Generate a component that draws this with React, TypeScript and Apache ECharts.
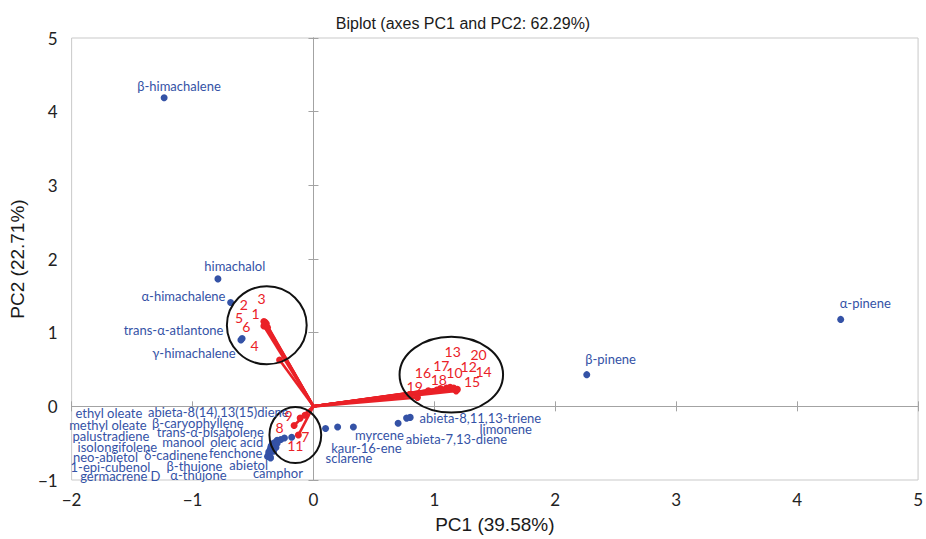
import React, { useEffect, useRef } from "react";
import * as echarts from "echarts";

// ---- Variables (blue) ----
const varNames = [
  "β-himachalene", "himachalol", "α-himachalene", "trans-α-atlantone", "γ-himachalene",
  "α-pinene", "β-pinene", "abieta-8,11,13-triene", "limonene", "abieta-7,13-diene",
  "myrcene", "kaur-16-ene", "sclarene",
  "ethyl oleate", "methyl oleate", "palustradiene", "isolongifolene", "neo-abietol",
  "1-epi-cubenol", "germacrene D", "abieta-8(14),13(15)diene", "β-caryophyllene",
  "trans-α-bisabolene", "manool", "oleic acid", "δ-cadinene", "fenchone",
  "β-thujone", "abietol", "α-thujone", "camphor",
];
const varPC1 = [
  -1.235, -0.79, -0.685, -0.59, -0.6,
  4.36, 2.26, 0.8, 0.77, 0.7,
  0.33, 0.2, 0.1,
  -0.37, -0.37, -0.36, -0.355, -0.36,
  -0.38, -0.355, -0.27, -0.3,
  -0.32, -0.34, -0.24, -0.35, -0.18,
  -0.34, -0.33, -0.31, -0.3,
];
const varPC2 = [
  4.19, 1.73, 1.41, 0.92, 0.9,
  1.18, 0.43, -0.15, -0.16, -0.23,
  -0.28, -0.28, -0.3,
  -0.62, -0.65, -0.6, -0.57, -0.68,
  -0.68, -0.7, -0.45, -0.46,
  -0.49, -0.51, -0.43, -0.54, -0.42,
  -0.57, -0.61, -0.56, -0.5,
];
// label anchors (centre of text) in PC units
const varLabelPC1 = [
  -1.112, -0.651, -1.075, -1.157, -0.988,
  4.563, 2.457, 1.38, 1.59, 1.183,
  0.545, 0.438, 0.294,
  -1.692, -1.7, -1.675, -1.622, -1.72,
  -1.679, -1.597, -0.787, -0.956,
  -0.853, -1.075, -0.635, -1.137, -0.643,
  -0.984, -0.536, -0.951, -0.294,
];
const varLabelPC2 = [
  4.35, 1.91, 1.5, 1.04, 0.72,
  1.4, 0.64, -0.16, -0.31, -0.45,
  -0.39, -0.57, -0.7,
  -0.095, -0.257, -0.407, -0.556, -0.691,
  -0.827, -0.949, -0.081, -0.23,
  -0.352, -0.488, -0.488, -0.664, -0.637,
  -0.813, -0.799, -0.935, -0.908,
];

// ---- Observations (red) ----
const obsNames = ["1", "2", "3", "4", "5", "6", "7", "8", "9", "10", "11", "12", "13", "14", "15", "16", "17", "18", "19", "20"];
const obsPC1 = [-0.41, -0.4, -0.39, -0.28, -0.41, -0.38, -0.125, -0.16, -0.07, 1.1, -0.11, 1.15, 1.13, 1.19, 1.18, 0.95, 1.05, 1.02, 0.86, 1.16];
const obsPC2 = [1.15, 1.14, 1.12, 0.63, 1.09, 1.07, -0.39, -0.26, -0.12, 0.25, -0.16, 0.24, 0.26, 0.23, 0.21, 0.21, 0.24, 0.22, 0.12, 0.25];
const obsLabelPC1 = [-0.478, -0.575, -0.43, -0.487, -0.616, -0.555, -0.067, -0.281, -0.205, 1.166, -0.15, 1.284, 1.151, 1.407, 1.312, 0.905, 1.057, 1.037, 0.837, 1.365];
const obsLabelPC2 = [1.26, 1.385, 1.463, 0.827, 1.201, 1.08, -0.416, -0.289, -0.131, 0.465, -0.538, 0.546, 0.749, 0.47, 0.343, 0.456, 0.556, 0.366, 0.275, 0.705];

// ---- Group ellipses ----
const ellipseCX = [-0.386, -0.15, 1.14];
const ellipseCY = [1.1, -0.39, 0.43];
const ellipseRX = [0.33, 0.214, 0.428];
const ellipseRY = [0.53, 0.38, 0.515];

const X_MIN = -2, X_MAX = 5, Y_MIN = -1, Y_MAX = 5;

const BLUE = "#3452a6";
const RED = "#ea2127";
const LABEL_FONT = "13px Lato";

const minus = (v: number) => String(v).replace("-", "\u2212");

export default function App() {
  const ref = useRef<HTMLDivElement>(null);
  useEffect(() => {
    if (!ref.current) return;
    const chart = echarts.init(ref.current, undefined, { renderer: "svg" });

    const axisGray = "#a3a3a3";
    const baseX = { type: "value", min: X_MIN, max: X_MAX, interval: 1, splitLine: { show: false } };
    const baseY = { type: "value", min: Y_MIN, max: Y_MAX, interval: 1, splitLine: { show: false } };

    const zeroAxis = (inside: boolean) => ({
      axisLine: { show: true, onZero: true, onZeroAxisIndex: 0, lineStyle: { color: axisGray, width: 1 } },
      axisTick: { show: true, inside, length: 5, lineStyle: { color: axisGray } },
      axisLabel: { show: false },
    });

    const option: any = {
      animation: false,
      title: {
        text: "Biplot (axes PC1 and PC2: 62.29%)",
        left: "center",
        top: 10,
        textStyle: { fontSize: 16, fontWeight: "normal", fontFamily: "Liberation Sans", color: "#1a1a1a" },
      },
      grid: { left: 70, right: 5, top: 38, bottom: 58, show: true, borderColor: "#c9c9c9", borderWidth: 1 },
      xAxis: [
        {
          ...baseX,
          position: "bottom",
          axisLine: { show: false, onZero: false },
          axisTick: { show: false },
          axisLabel: { fontSize: 17, fontFamily: "Lato", color: "#222", margin: 11, formatter: minus },
          name: "PC1 (39.58%)",
          nameLocation: "middle",
          nameGap: 35,
          nameTextStyle: { fontSize: 19, fontFamily: "Liberation Sans", color: "#1a1a1a" },
        },
        { ...baseX, ...zeroAxis(false) },
        { ...baseX, ...zeroAxis(true) },
      ],
      yAxis: [
        {
          ...baseY,
          position: "left",
          axisLine: { show: false, onZero: false },
          axisTick: { show: false },
          axisLabel: { fontSize: 17, fontFamily: "Lato", color: "#222", margin: 14, formatter: minus },
          name: "PC2 (22.71%)",
          nameLocation: "middle",
          nameGap: 42,
          nameTextStyle: { fontSize: 19, fontFamily: "Liberation Sans", color: "#1a1a1a" },
        },
        { ...baseY, ...zeroAxis(false) },
        { ...baseY, ...zeroAxis(true) },
      ],
      series: [
        {
          type: "custom",
          name: "vectors",
          xAxisIndex: 0,
          yAxisIndex: 0,
          data: obsPC1.map((x, i) => [x, obsPC2[i]]),
          renderItem: (params: any, api: any) => {
            const p0 = api.coord([0, 0]);
            const p1 = api.coord([api.value(0), api.value(1)]);
            return {
              type: "line",
              shape: { x1: p0[0], y1: p0[1], x2: p1[0], y2: p1[1] },
              style: { stroke: RED, lineWidth: 2.6 },
            };
          },
          silent: true,
          z: 2,
        },
        {
          type: "scatter",
          name: "variables",
          xAxisIndex: 0,
          yAxisIndex: 0,
          symbolSize: 7,
          itemStyle: { color: BLUE, opacity: 1 },
          data: varPC1.map((x, i) => [x, varPC2[i]]),
          z: 3,
        },
        {
          type: "scatter",
          name: "observations",
          xAxisIndex: 0,
          yAxisIndex: 0,
          symbolSize: 7,
          itemStyle: { color: RED, opacity: 1 },
          data: obsPC1.map((x, i) => [x, obsPC2[i]]),
          z: 4,
        },
        {
          type: "custom",
          name: "ellipses",
          xAxisIndex: 0,
          yAxisIndex: 0,
          encode: { x: 0, y: 1 },
          data: ellipseCX.map((cx, i) => [cx, ellipseCY[i], ellipseRX[i], ellipseRY[i]]),
          renderItem: (params: any, api: any) => {
            const c = api.coord([api.value(0), api.value(1)]);
            const s = api.size([api.value(2), api.value(3)]);
            return {
              type: "ellipse",
              shape: { cx: c[0], cy: c[1], rx: s[0], ry: s[1] },
              style: { fill: "none", stroke: "#111", lineWidth: 2 },
            };
          },
          silent: true,
          z: 5,
        },
        {
          type: "custom",
          name: "variableLabels",
          xAxisIndex: 0,
          yAxisIndex: 0,
          encode: { x: 0, y: 1 },
          data: varLabelPC1.map((x, i) => [x, varLabelPC2[i], i]),
          renderItem: (params: any, api: any) => {
            const p = api.coord([api.value(0), api.value(1)]);
            return {
              type: "text",
              x: p[0],
              y: p[1],
              style: { text: varNames[api.value(2)], fill: BLUE, font: LABEL_FONT, align: "center", verticalAlign: "middle" },
            };
          },
          silent: true,
          z: 6,
        },
        {
          type: "custom",
          name: "observationLabels",
          xAxisIndex: 0,
          yAxisIndex: 0,
          encode: { x: 0, y: 1 },
          data: obsLabelPC1.map((x, i) => [x, obsLabelPC2[i], i]),
          renderItem: (params: any, api: any) => {
            const p = api.coord([api.value(0), api.value(1)]);
            return {
              type: "text",
              x: p[0],
              y: p[1],
              style: { text: obsNames[api.value(2)], fill: RED, font: "14px Lato", align: "center", verticalAlign: "middle" },
            };
          },
          silent: true,
          z: 6,
        },
      ],
    };
    chart.setOption(option);
    return () => chart.dispose();
  }, []);
  return <div ref={ref} style={{ position: "fixed", left: 0, top: 0, width: 926, height: 539, background: "#fff" }} />;
}
